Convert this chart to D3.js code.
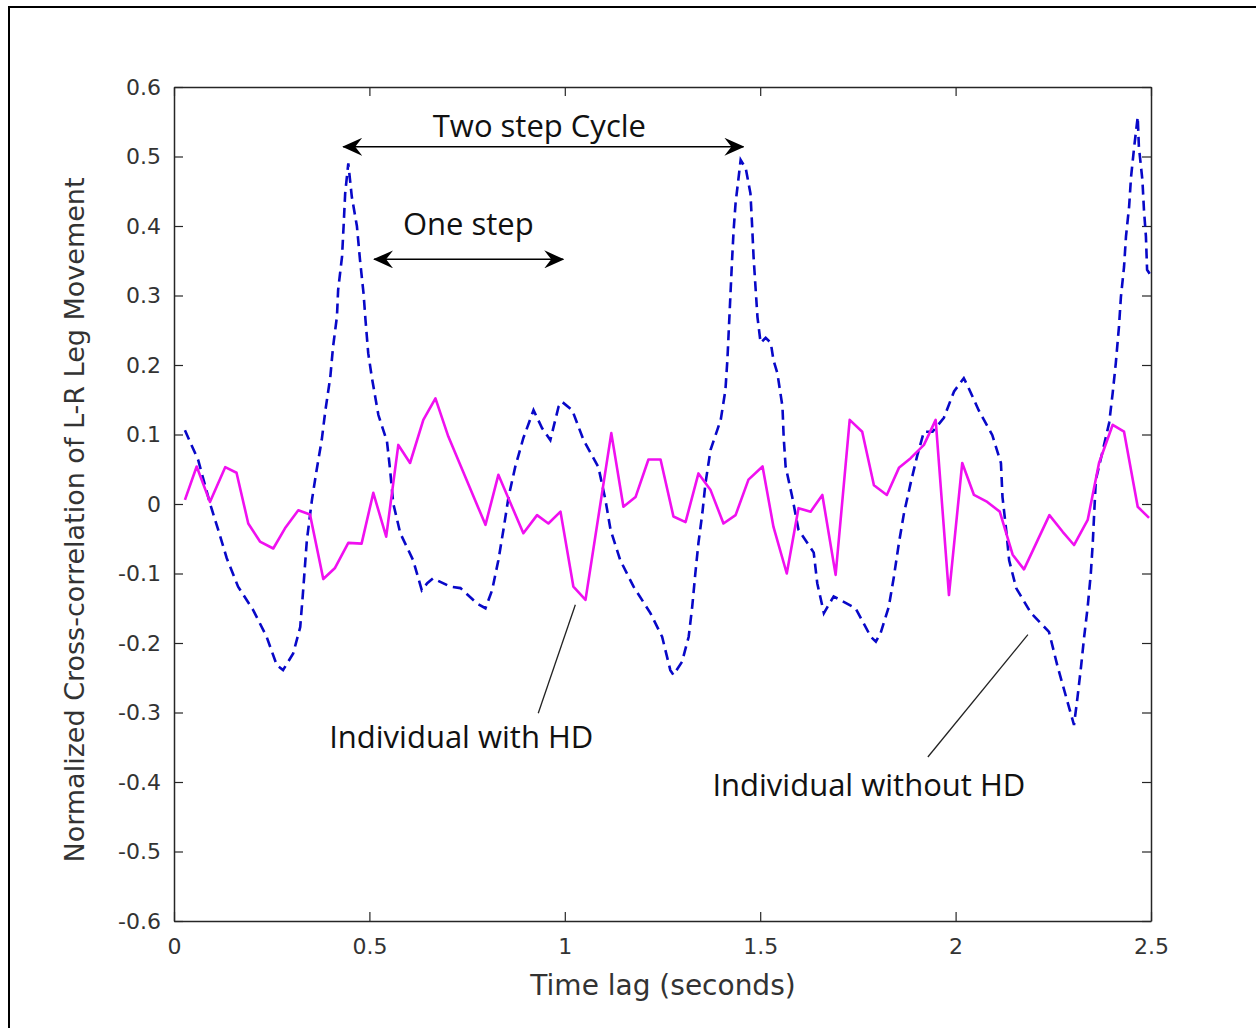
<!DOCTYPE html>
<html><head><meta charset="utf-8">
<script src="https://cdn.jsdelivr.net/npm/d3@7/dist/d3.min.js"></script>
<style>body{margin:0;background:#fff;} svg{display:block;}</style>
</head><body>
<svg id="chart" width="1256" height="1028"></svg>
<script>
// ---- data ----
const hdTime = [0.028,0.058,0.092,0.131,0.160,0.190,0.220,0.254,0.284,0.318,0.348,0.382,0.412,0.446,0.480,0.510,0.543,0.574,0.604,0.638,0.669,0.702,0.797,0.830,0.894,0.929,0.958,0.989,1.022,1.053,1.119,1.150,1.181,1.214,1.245,1.278,1.309,1.342,1.373,1.406,1.437,1.470,1.506,1.534,1.568,1.598,1.629,1.659,1.693,1.729,1.761,1.791,1.824,1.855,1.885,1.919,1.949,1.983,2.017,2.047,2.081,2.113,2.146,2.175,2.210,2.240,2.274,2.303,2.338,2.367,2.402,2.431,2.466,2.495];
const hdValue = [0.006,0.054,0.003,0.053,0.045,-0.028,-0.054,-0.064,-0.035,-0.009,-0.015,-0.108,-0.092,-0.056,-0.057,0.016,-0.047,0.085,0.059,0.121,0.152,0.097,-0.030,0.042,-0.042,-0.016,-0.028,-0.011,-0.119,-0.138,0.102,-0.004,0.010,0.064,0.064,-0.018,-0.026,0.044,0.020,-0.028,-0.016,0.035,0.054,-0.033,-0.100,-0.006,-0.011,0.013,-0.102,0.121,0.104,0.027,0.013,0.052,0.066,0.085,0.121,-0.131,0.059,0.013,0.003,-0.011,-0.073,-0.094,-0.052,-0.016,-0.040,-0.059,-0.023,0.059,0.114,0.104,-0.004,-0.020];

const noHdTime = [0.028,0.062,0.092,0.113,0.135,0.164,0.203,0.237,0.263,0.279,0.305,0.323,0.330,0.340,0.353,0.365,0.378,0.387,0.400,0.407,0.417,0.420,0.430,0.434,0.438,0.446,0.455,0.468,0.476,0.485,0.490,0.497,0.506,0.523,0.545,0.553,0.561,0.579,0.612,0.634,0.648,0.663,0.707,0.733,0.775,0.797,0.814,0.830,0.843,0.856,0.873,0.894,0.920,0.942,0.963,0.984,0.993,1.019,1.048,1.086,1.104,1.117,1.142,1.176,1.219,1.249,1.270,1.278,1.300,1.317,1.326,1.334,1.342,1.352,1.360,1.373,1.399,1.411,1.416,1.420,1.424,1.428,1.432,1.437,1.450,1.463,1.475,1.479,1.483,1.488,1.493,1.501,1.514,1.527,1.534,1.544,1.557,1.560,1.565,1.582,1.598,1.637,1.646,1.663,1.688,1.744,1.783,1.796,1.808,1.829,1.842,1.855,1.868,1.885,1.902,1.919,1.941,1.970,1.996,2.021,2.030,2.059,2.094,2.116,2.120,2.129,2.137,2.155,2.193,2.239,2.261,2.283,2.303,2.312,2.321,2.329,2.338,2.346,2.351,2.355,2.359,2.377,2.393,2.402,2.410,2.418,2.423,2.431,2.436,2.444,2.449,2.457,2.466,2.469,2.478,2.482,2.487,2.490,2.498];
const noHdValue = [0.106,0.063,0.001,-0.037,-0.078,-0.119,-0.153,-0.191,-0.232,-0.239,-0.215,-0.177,-0.128,-0.052,0.006,0.049,0.092,0.133,0.183,0.226,0.270,0.308,0.356,0.400,0.447,0.490,0.442,0.400,0.351,0.303,0.265,0.217,0.183,0.128,0.090,0.049,0.001,-0.042,-0.081,-0.124,-0.114,-0.107,-0.119,-0.121,-0.143,-0.150,-0.124,-0.081,-0.037,0.010,0.053,0.095,0.135,0.109,0.092,0.140,0.147,0.135,0.092,0.053,0.006,-0.037,-0.081,-0.119,-0.157,-0.191,-0.239,-0.246,-0.227,-0.191,-0.148,-0.100,-0.056,-0.013,0.030,0.078,0.121,0.164,0.207,0.255,0.303,0.351,0.394,0.433,0.495,0.483,0.447,0.404,0.356,0.312,0.269,0.232,0.239,0.232,0.207,0.188,0.140,0.097,0.054,0.010,-0.037,-0.070,-0.114,-0.157,-0.133,-0.150,-0.191,-0.198,-0.186,-0.148,-0.105,-0.056,-0.013,0.030,0.070,0.104,0.104,0.124,0.162,0.181,0.171,0.135,0.099,0.059,0.010,-0.035,-0.081,-0.121,-0.157,-0.184,-0.234,-0.278,-0.318,-0.278,-0.234,-0.191,-0.148,-0.100,-0.056,-0.009,0.035,0.078,0.117,0.160,0.203,0.255,0.298,0.341,0.385,0.428,0.471,0.514,0.557,0.514,0.466,0.423,0.385,0.337,0.330];

const xTicks = [0,0.5,1,1.5,2,2.5];
const xTickLabels = ["0","0.5","1","1.5","2","2.5"];
const yTicks = [-0.6,-0.5,-0.4,-0.3,-0.2,-0.1,0,0.1,0.2,0.3,0.4,0.5,0.6];
const yTickLabels = ["-0.6","-0.5","-0.4","-0.3","-0.2","-0.1","0","0.1","0.2","0.3","0.4","0.5","0.6"];

const xLabel = "Time lag (seconds)";
const yLabel = "Normalized Cross-correlation of L-R Leg Movement";

// annotations (data coordinates)
const arrowLabels = ["Two step Cycle","One step"];
const arrowStart = [0.433,0.512];
const arrowEnd = [1.457,0.996];
const arrowLevel = [0.514,0.352];
const arrowTextX = [0.935,0.753];
const arrowTextY = [0.528,0.387];

const calloutLabels = ["Individual with HD","Individual without HD"];
const calloutTextX = [0.735,1.778];
const calloutTextY = [-0.351,-0.420];
const leaderFromX = [1.027,2.185];
const leaderFromY = [-0.145,-0.188];
const leaderToX = [0.932,1.929];
const leaderToY = [-0.301,-0.364];

// ---- drawing ----
const svg = d3.select("#chart");
const L = 174, R = 1151, T = 87, B = 921;
const x = d3.scaleLinear().domain([0,2.5]).range([L,R]);
const y = d3.scaleLinear().domain([-0.6,0.6]).range([B,T]);

svg.append("rect").attr("x",9).attr("y",7).attr("width",1270).attr("height",1040)
  .attr("fill","#fff").attr("stroke","#000").attr("stroke-width",2);

const tickFont = "'DejaVu Sans', sans-serif";
const axColor = "#262626";

// axes
const gx = svg.append("g").attr("transform",`translate(0,${B})`)
  .call(d3.axisBottom(x).tickValues(xTicks).tickFormat((d,i)=>xTickLabels[i]).tickSizeInner(-9).tickSizeOuter(0).tickPadding(17));
const gxTop = svg.append("g").attr("transform",`translate(0,${T})`)
  .call(d3.axisTop(x).tickValues(xTicks).tickFormat("").tickSizeInner(-9).tickSizeOuter(0));
const gy = svg.append("g").attr("transform",`translate(${L},0)`)
  .call(d3.axisLeft(y).tickValues(yTicks).tickFormat((d,i)=>yTickLabels[i]).tickSizeInner(-9).tickSizeOuter(0).tickPadding(13));
const gyR = svg.append("g").attr("transform",`translate(${R},0)`)
  .call(d3.axisRight(y).tickValues(yTicks).tickFormat("").tickSizeInner(-9).tickSizeOuter(0));
[gx,gxTop,gy,gyR].forEach(g=>{
  g.select(".domain").attr("stroke",axColor).attr("stroke-width",1.5);
  g.selectAll(".tick line").attr("stroke",axColor).attr("stroke-width",1.2);
  g.selectAll(".tick text").attr("font-family",tickFont).attr("font-size",22).attr("fill","#333");
});

// lines
const line = d3.line().x(d=>x(d[0])).y(d=>y(d[1]));
const noHd = noHdTime.map((t,i)=>[t,noHdValue[i]]);
const hd = hdTime.map((t,i)=>[t,hdValue[i]]);
svg.append("path").datum(noHd).attr("d",line).attr("fill","none")
  .attr("stroke","#0808c8").attr("stroke-width",2.6).attr("stroke-dasharray","10,6");
svg.append("path").datum(hd).attr("d",line).attr("fill","none")
  .attr("stroke","#f010f0").attr("stroke-width",2.6).attr("stroke-linejoin","round");

// arrow markers
const defs = svg.append("defs");
defs.append("marker").attr("id","ah").attr("viewBox","0 0 20 18").attr("refX",19).attr("refY",9)
  .attr("markerWidth",20).attr("markerHeight",18).attr("markerUnits","userSpaceOnUse").attr("orient","auto-start-reverse")
  .append("path").attr("d","M0,0 L20,9 L0,18 L7,9 Z").attr("fill","#000");

arrowLabels.forEach((lab,i)=>{
  svg.append("line").attr("x1",x(arrowStart[i])).attr("x2",x(arrowEnd[i]))
    .attr("y1",y(arrowLevel[i])).attr("y2",y(arrowLevel[i]))
    .attr("stroke","#000").attr("stroke-width",1.5)
    .attr("marker-start","url(#ah)").attr("marker-end","url(#ah)");
  svg.append("text").attr("x",x(arrowTextX[i])).attr("y",y(arrowTextY[i]))
    .attr("text-anchor","middle").attr("font-family","'Open Sans', sans-serif").attr("font-size",31)
    .attr("fill","#111").text(lab);
});

calloutLabels.forEach((lab,i)=>{
  svg.append("line").attr("x1",x(leaderFromX[i])).attr("y1",y(leaderFromY[i]))
    .attr("x2",x(leaderToX[i])).attr("y2",y(leaderToY[i]))
    .attr("stroke","#222").attr("stroke-width",1.3);
  svg.append("text").attr("x",x(calloutTextX[i])).attr("y",y(calloutTextY[i]))
    .attr("text-anchor","middle").attr("font-family","'Open Sans', sans-serif").attr("font-size",31)
    .attr("fill","#111").text(lab);
});

// axis labels
svg.append("text").attr("x",663).attr("y",995).attr("text-anchor","middle")
  .attr("font-family",tickFont).attr("font-size",28).attr("fill","#333").text(xLabel);
svg.append("text").attr("transform",`translate(84,520) rotate(-90)`).attr("text-anchor","middle")
  .attr("font-family",tickFont).attr("font-size",27).attr("fill","#333").text(yLabel);
</script>
</body></html>
